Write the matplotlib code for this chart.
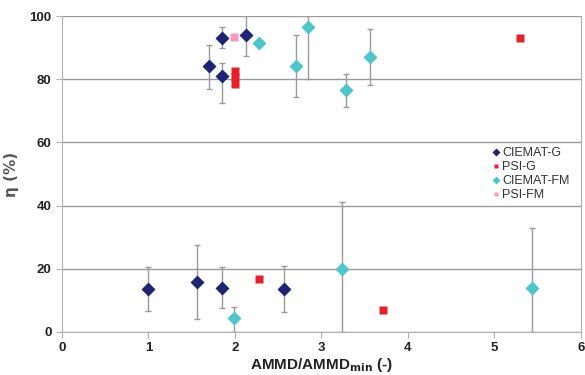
import numpy as np
import matplotlib.pyplot as plt

# === Data ===
ciemat_g_x = [1.00, 1.56, 1.85, 2.57, 1.70, 1.85, 1.85, 2.13]
ciemat_g_y = [13.5, 15.8, 14.0, 13.6, 84.2, 93.0, 81.0, 94.0]
ciemat_g_lo = [6.9, 11.8, 6.4, 7.3, 7.2, 3.0, 8.5, 6.7]
ciemat_g_hi = [7.1, 11.7, 6.5, 7.4, 6.8, 3.5, 4.0, 8.0]

psi_g_x = [2.00, 2.00, 2.00, 2.28, 3.71, 5.29]
psi_g_y = [82.6, 80.6, 78.6, 16.7, 7.0, 93.0]

ciemat_fm_x = [1.99, 2.28, 2.71, 2.85, 3.28, 3.56, 3.24, 5.43]
ciemat_fm_y = [4.5, 91.5, 84.2, 96.4, 76.6, 87.1, 20.0, 14.0]
ciemat_fm_lo = [4.5, 0.0, 9.8, 16.4, 5.4, 8.9, 20.0, 14.0]
ciemat_fm_hi = [3.5, 0.0, 9.8, 6.0, 5.0, 8.9, 21.0, 19.0]

psi_fm_x = [1.99]
psi_fm_y = [93.5]

navy = '#1d2473'
red = '#e8202a'
cyan = '#4cc6cb'
pink = '#f29bc4'
grey = '#9a9a9a'

fig = plt.figure(figsize=(5.85, 3.75), dpi=100)
ax = fig.add_axes([0.106, 0.115, 0.887, 0.842])

# === Error bars ===
ax.errorbar(ciemat_g_x, ciemat_g_y, yerr=[ciemat_g_lo, ciemat_g_hi], fmt='none',
            ecolor=grey, elinewidth=1, capsize=2, zorder=2)
ax.errorbar(ciemat_fm_x, ciemat_fm_y, yerr=[ciemat_fm_lo, ciemat_fm_hi], fmt='none',
            ecolor=grey, elinewidth=1, capsize=2, zorder=2)

# === Markers ===
ax.plot(ciemat_g_x, ciemat_g_y, 'D', color=navy, ms=6.8, mec='none', label='CIEMAT-G', zorder=3)
ax.plot(psi_g_x, psi_g_y, 's', color=red, ms=6, mec='none', label='PSI-G', zorder=3)
ax.plot(ciemat_fm_x, ciemat_fm_y, 'D', color=cyan, ms=6.8, mec='none', label='CIEMAT-FM', zorder=3)
ax.plot(psi_fm_x, psi_fm_y, 's', color=pink, ms=6, mec='none', label='PSI-FM', zorder=3)

ax.set_xlim(0, 6)
ax.set_ylim(0, 100)
ax.set_xticks(range(7))
ax.set_yticks(range(0, 101, 20))
ax.grid(axis='y', color=grey, linewidth=1)
ax.set_axisbelow(True)
for s in ax.spines.values():
    s.set_color('#b0b0b0')
ax.spines['top'].set_visible(False)
ax.tick_params(colors='#b0b0b0', labelcolor='#222222', length=4)
for lbl in ax.get_xticklabels() + ax.get_yticklabels():
    lbl.set_fontweight('bold')
    lbl.set_fontsize(9.5)
    lbl.set_family('Liberation Sans')

ax.set_xlabel('AMMD/AMMD$_{\\mathbf{min}}$ (-)', fontsize=11, fontweight='bold',
              family='Liberation Sans', color='#222222')
ax.xaxis.set_label_coords(0.5, -0.077)
ax.set_ylabel('η (%)', fontsize=11, fontweight='bold', family='DejaVu Sans',
              color='#555555')
ax.yaxis.set_label_coords(-0.083, 0.5)

leg = ax.legend(loc='upper right', bbox_to_anchor=(1.0, 0.62), frameon=False,
                handlelength=0.6, handletextpad=0.2, labelspacing=0.15,
                markerscale=0.6, prop={'family': 'Liberation Sans', 'size': 9})
for t in leg.get_texts():
    t.set_color('#333333')

fig.savefig('out.png', dpi=100)
